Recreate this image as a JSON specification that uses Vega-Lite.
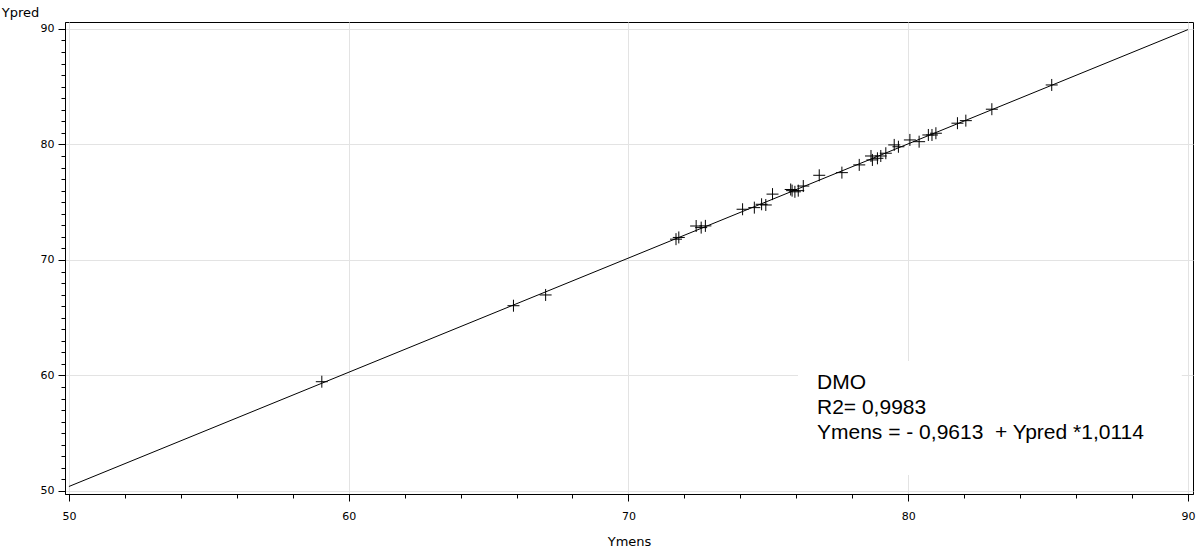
{
  "$schema": "https://vega.github.io/schema/vega-lite/v6.json",
  "width": 1128,
  "height": 472,
  "autosize": "none",
  "padding": {"left": 65, "top": 22, "right": 9, "bottom": 58},
  "background": "white",
  "config": {
    "view": {"stroke": "black", "strokeWidth": 1},
    "axis": {
      "domainColor": "black",
      "tickColor": "black",
      "labelColor": "black",
      "titleColor": "black",
      "labelFont": "DejaVu Sans",
      "titleFont": "DejaVu Sans",
      "labelFontSize": 11,
      "titleFontSize": 13,
      "titleFontWeight": "normal",
      "gridColor": "#e3e3e3",
      "gridWidth": 1
    }
  },
  "resolve": {"axis": {"x": "independent", "y": "independent"}},
  "layer": [
    {
      "data": {"values": [{"xa": 76.06, "xb": 89.78, "ya": 51.38, "yb": 61.25}]},
      "mark": {"type": "rect", "fill": "white", "stroke": null},
      "encoding": {
        "x": {"field": "xa", "type": "quantitative", "scale": {"domain": [49.86, 90.18], "nice": false, "zero": false},
          "axis": {"orient": "bottom", "values": [50,60,70,80,90], "labels": false, "ticks": false, "grid": true, "domain": false, "title": null, "zindex": 0}},
        "x2": {"field": "xb"},
        "y": {"field": "ya", "type": "quantitative", "scale": {"domain": [49.74, 90.6], "nice": false, "zero": false},
          "axis": {"orient": "left", "values": [50,60,70,80,90], "labels": false, "ticks": false, "grid": true, "domain": false, "title": null, "zindex": 0}},
        "y2": {"field": "yb"}
      }
    },
    {
      "data": {"values": [{"Ymens": 50, "Ypred": 50.39}, {"Ymens": 90, "Ypred": 89.94}]},
      "mark": {"type": "line", "color": "black", "strokeWidth": 1},
      "encoding": {
        "x": {"field": "Ymens", "type": "quantitative",
          "axis": {"orient": "bottom", "values": [52,54,56,58,62,64,66,68,72,74,76,78,82,84,86,88], "labels": false, "grid": false, "domain": false, "tickSize": 4, "title": null}},
        "y": {"field": "Ypred", "type": "quantitative",
          "axis": {"orient": "left", "values": [51,52,53,54,55,56,57,58,59,61,62,63,64,65,66,67,68,69,71,72,73,74,75,76,77,78,79,81,82,83,84,85,86,87,88,89], "labels": false, "grid": false, "domain": false, "tickSize": 4, "title": null}}
      }
    },
    {
      "data": {"values": [
        {"Ymens": 59.04, "Ypred": 59.46},
        {"Ymens": 65.89, "Ypred": 66.04},
        {"Ymens": 67.04, "Ypred": 66.97},
        {"Ymens": 71.7, "Ypred": 71.8},
        {"Ymens": 71.8, "Ypred": 71.95},
        {"Ymens": 72.42, "Ypred": 72.94},
        {"Ymens": 72.6, "Ypred": 72.8},
        {"Ymens": 72.75, "Ypred": 72.95},
        {"Ymens": 74.08, "Ypred": 74.39},
        {"Ymens": 74.5, "Ypred": 74.53},
        {"Ymens": 74.76, "Ypred": 74.82},
        {"Ymens": 74.91, "Ypred": 74.76},
        {"Ymens": 75.15, "Ypred": 75.7},
        {"Ymens": 75.8, "Ypred": 76.1},
        {"Ymens": 75.85, "Ypred": 76.0},
        {"Ymens": 75.95, "Ypred": 75.9},
        {"Ymens": 76.07, "Ypred": 76.0},
        {"Ymens": 76.25, "Ypred": 76.4},
        {"Ymens": 76.82, "Ypred": 77.33},
        {"Ymens": 77.63, "Ypred": 77.56},
        {"Ymens": 78.25, "Ypred": 78.23},
        {"Ymens": 78.67, "Ypred": 79.0},
        {"Ymens": 78.72, "Ypred": 78.66},
        {"Ymens": 78.9, "Ypred": 78.8},
        {"Ymens": 79.02, "Ypred": 79.0},
        {"Ymens": 79.2, "Ypred": 79.24},
        {"Ymens": 79.5, "Ypred": 79.96},
        {"Ymens": 79.65, "Ypred": 79.8},
        {"Ymens": 80.06, "Ypred": 80.39},
        {"Ymens": 80.39, "Ypred": 80.24},
        {"Ymens": 80.72, "Ypred": 80.82},
        {"Ymens": 80.85, "Ypred": 80.82},
        {"Ymens": 80.99, "Ypred": 80.97},
        {"Ymens": 81.76, "Ypred": 81.84},
        {"Ymens": 82.06, "Ypred": 82.06},
        {"Ymens": 82.99, "Ypred": 83.05},
        {"Ymens": 85.13, "Ypred": 85.15}
      ]},
      "mark": {"type": "point", "shape": "M-1,0L1,0M0,-1L0,1", "size": 144, "filled": false, "stroke": "black", "strokeWidth": 1, "opacity": 1},
      "encoding": {
        "x": {"field": "Ymens", "type": "quantitative",
          "axis": {"orient": "bottom", "values": [50,60,70,80,90], "grid": false, "tickSize": 7, "labelPadding": 9, "title": "Ymens", "titleX": 564, "titleY": 47, "titleBaseline": "middle", "titleAlign": "center"}},
        "y": {"field": "Ypred", "type": "quantitative",
          "axis": {"orient": "left", "values": [50,60,70,80,90], "grid": false, "tickSize": 7, "labelPadding": 4, "title": "Ypred", "titleAngle": 0, "titleX": -45, "titleY": -10, "titleAlign": "center", "titleBaseline": "middle"}}
      }
    },
    {
      "data": {"values": [
        {"tx": 76.74, "ty": 59.34, "label": "DMO"},
        {"tx": 76.74, "ty": 57.18, "label": "R2= 0,9983"},
        {"tx": 76.74, "ty": 55.02, "label": "Ymens = - 0,9613\u00a0\u00a0+ Ypred *1,0114"}
      ]},
      "mark": {"type": "text", "align": "left", "baseline": "middle", "font": "Liberation Sans", "fontSize": 21, "color": "black"},
      "encoding": {
        "x": {"field": "tx", "type": "quantitative", "axis": null},
        "y": {"field": "ty", "type": "quantitative", "axis": null},
        "text": {"field": "label"}
      }
    }
  ]
}
